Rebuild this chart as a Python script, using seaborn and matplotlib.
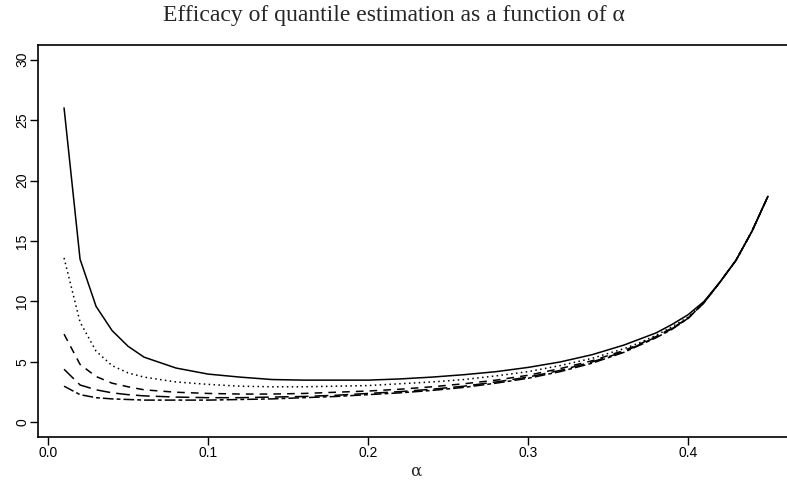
import numpy as np
import pandas as pd
import matplotlib
matplotlib.use("Agg")
import matplotlib.pyplot as plt
import seaborn as sns

# alpha grid used for reading the curves off the picture
alpha = [0.01, 0.02, 0.03, 0.04, 0.05, 0.06, 0.08, 0.10, 0.12, 0.14, 0.16, 0.18,
         0.20, 0.22, 0.24, 0.26, 0.28, 0.30, 0.32, 0.34, 0.36, 0.37, 0.38, 0.39,
         0.40, 0.41, 0.42, 0.43, 0.44, 0.45]

# efficacy curves, top to bottom
eff_1 = [26.0, 13.5, 9.6, 7.6, 6.3, 5.4, 4.5, 4.0, 3.75, 3.55, 3.5, 3.5,
         3.5, 3.6, 3.75, 3.95, 4.2, 4.55, 5.0, 5.6, 6.4, 6.9, 7.4, 8.1,
         8.9, 10.0, 11.6, 13.4, 15.8, 18.7]
eff_2 = [13.6, 8.3, 5.9, 4.7, 4.1, 3.75, 3.35, 3.15, 3.0, 2.95, 2.95, 3.0,
         3.05, 3.2, 3.35, 3.55, 3.85, 4.2, 4.7, 5.3, 6.1, 6.6, 7.2, 7.9,
         8.7, 9.9, 11.6, 13.4, 15.8, 18.7]
eff_3 = [7.3, 4.8, 3.8, 3.25, 2.95, 2.7, 2.5, 2.4, 2.35, 2.35, 2.4, 2.5,
         2.6, 2.75, 2.95, 3.2, 3.5, 3.9, 4.45, 5.1, 5.95, 6.5, 7.1, 7.8,
         8.6, 9.9, 11.6, 13.4, 15.8, 18.7]
eff_4 = [4.4, 3.1, 2.7, 2.45, 2.3, 2.2, 2.1, 2.05, 2.05, 2.1, 2.15, 2.25,
         2.4, 2.55, 2.75, 3.0, 3.35, 3.75, 4.3, 5.0, 5.85, 6.45, 7.05, 7.75,
         8.6, 9.9, 11.6, 13.4, 15.8, 18.7]
eff_5 = [3.0, 2.3, 2.05, 1.95, 1.9, 1.85, 1.85, 1.85, 1.9, 1.95, 2.05, 2.15,
         2.3, 2.45, 2.65, 2.9, 3.25, 3.65, 4.2, 4.9, 5.8, 6.4, 7.0, 7.7,
         8.6, 9.9, 11.6, 13.4, 15.8, 18.7]

curves = {"c1": eff_1, "c2": eff_2, "c3": eff_3, "c4": eff_4, "c5": eff_5}
df = pd.concat([pd.DataFrame({"alpha": alpha, "eff": v, "curve": k})
                for k, v in curves.items()], ignore_index=True)

# solid, dotted, dashed, long dash, two-dash (R lty style)
line_dashes = {"c1": "", "c2": (1, 2.2), "c3": (5, 4), "c4": (9, 4), "c5": (7, 2, 2.5, 2)}

sns.set_style("ticks")
plt.rcParams["font.family"] = ["Liberation Sans", "DejaVu Sans"]

fig = plt.figure(figsize=(7.87, 4.91), dpi=100)
ax = fig.add_axes([37.5 / 787, 54 / 491, 757 / 787, 392 / 491])

sns.lineplot(data=df, x="alpha", y="eff", style="curve", dashes=line_dashes,
             color="black", linewidth=1.1, legend=False, ax=ax, sort=False)

ax.set_xlim(-0.0066, 0.4666)
ax.set_ylim(-1.2, 31.2)
ax.set_xticks([0.0, 0.1, 0.2, 0.3, 0.4])
ax.set_xticklabels(["0.0", "0.1", "0.2", "0.3", "0.4"])
ax.set_yticks([0, 5, 10, 15, 20, 25, 30])
ax.set_yticklabels(["0", "5", "10", "15", "20", "25", "30"], rotation=90, va="center")
ax.tick_params(direction="out", length=6, width=1, labelsize=10, colors="black")
ax.tick_params(axis="x", pad=0.5)
ax.tick_params(axis="y", pad=0)
for s in ax.spines.values():
    s.set_visible(True)
    s.set_linewidth(1.2)
    s.set_color("black")

ax.set_xlabel("α", family=["DejaVu Serif"], fontsize=12, labelpad=2)
ax.set_ylabel("")
fig.suptitle("Efficacy of quantile estimation as a function of α",
             family=["Liberation Serif", "DejaVu Serif"], fontsize=17, y=0.99)

fig.savefig("out.png", dpi=100)
